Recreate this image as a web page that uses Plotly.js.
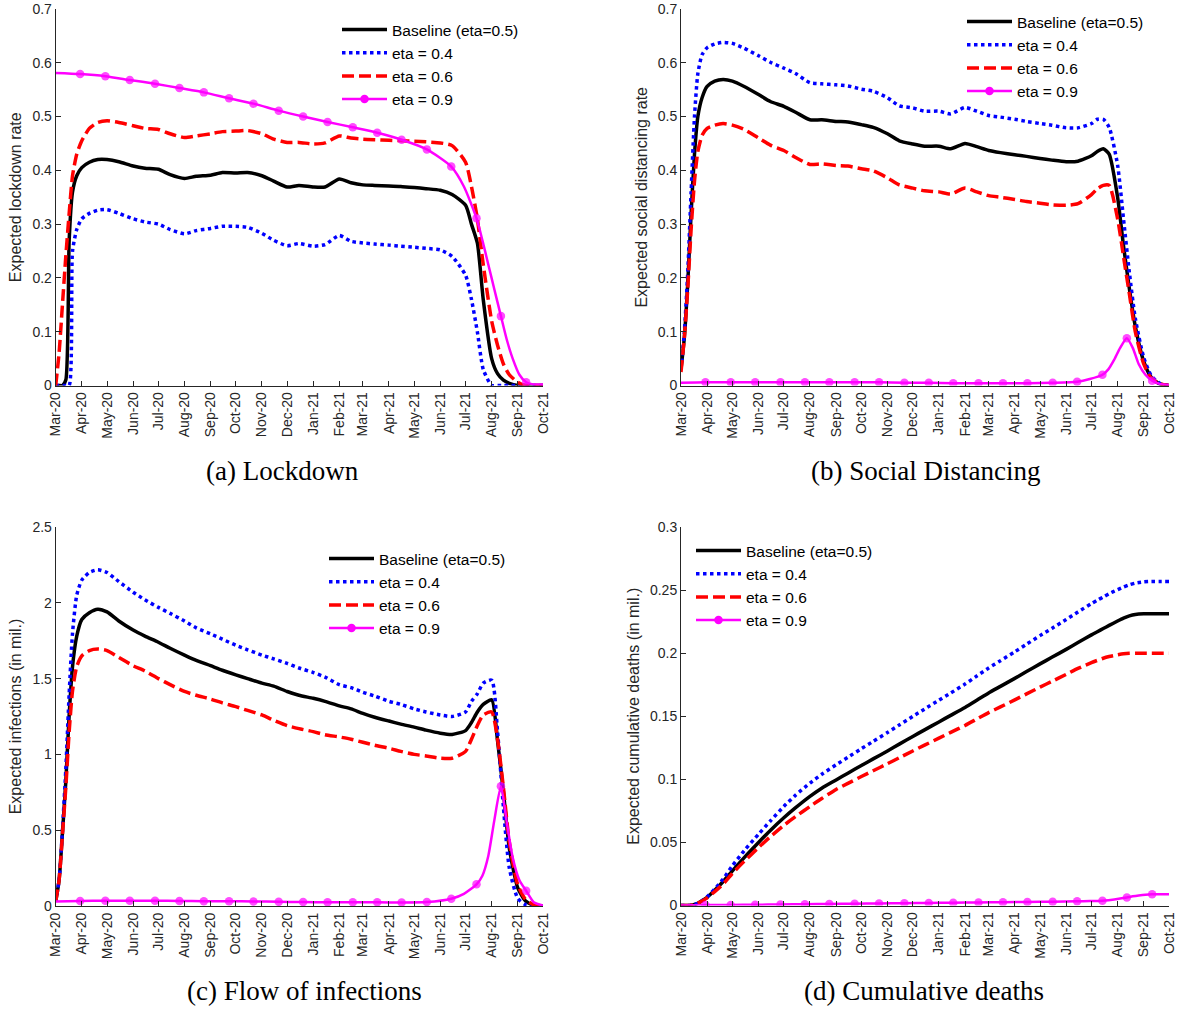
<!DOCTYPE html>
<html><head><meta charset="utf-8">
<script src="https://cdn.plot.ly/plotly-3.0.1.min.js"></script>
<style>html,body{margin:0;padding:0;background:#fff}#chart{width:1187px;height:1009px}</style>
</head><body><div id="chart"></div>
<script>
// ---------- DATA ----------
const dates = ['2020-03-01','2020-03-05','2020-03-09','2020-03-13','2020-03-17','2020-03-21','2020-03-26','2020-04-01','2020-04-10','2020-04-20',
  '2020-05-01','2020-05-15','2020-06-01','2020-06-15','2020-07-01','2020-07-15','2020-08-01','2020-08-15','2020-09-01','2020-09-15',
  '2020-10-01','2020-10-15','2020-11-01','2020-11-15','2020-12-01','2020-12-15','2021-01-01','2021-01-15','2021-02-01','2021-02-15',
  '2021-03-01','2021-03-15','2021-04-01','2021-04-15','2021-05-01','2021-05-15','2021-06-01','2021-06-15','2021-07-01','2021-07-08',
  '2021-07-15','2021-07-22','2021-08-01','2021-08-08','2021-08-15','2021-08-22','2021-09-01','2021-09-10','2021-09-20','2021-10-01'];

const eta09Dates = ['2020-03-01','2020-03-30','2020-04-29','2020-05-28','2020-06-27','2020-07-26','2020-08-24','2020-09-23','2020-10-22','2020-11-21',
  '2020-12-20','2021-01-18','2021-02-17','2021-03-18','2021-04-16','2021-05-16','2021-06-14','2021-06-29','2021-07-14','2021-07-21',
  '2021-07-28','2021-08-04','2021-08-12','2021-08-19','2021-08-26','2021-09-03','2021-09-11','2021-09-20','2021-10-01'];
const markerDates = ['2020-03-30','2020-04-29','2020-05-28','2020-06-27','2020-07-26','2020-08-24','2020-09-23','2020-10-22','2020-11-21',
  '2020-12-20','2021-01-18','2021-02-17','2021-03-18','2021-04-16','2021-05-16','2021-06-14','2021-07-14','2021-08-12','2021-09-11'];

const seriesNames = ['Baseline (eta=0.5)','eta = 0.4','eta = 0.6','eta = 0.9'];

// (a) Lockdown
const lockBase = [0,0,0,0.01,0.27,0.36,0.39,0.405,0.415,0.42, 0.42,0.416,0.408,0.404,0.402,0.392,0.385,0.389,0.391,0.396,
  0.395,0.396,0.39,0.38,0.369,0.372,0.369,0.369,0.384,0.377, 0.373,0.372,0.371,0.370,0.368,0.366,0.363,0.355,0.335,0.30,
  0.265,0.16,0.05,0.022,0.01,0.004,0,0,0,0];
const lockEta04 = [0,0,0,0,0,0.25,0.29,0.31,0.32,0.326, 0.327,0.32,0.31,0.304,0.30,0.29,0.282,0.288,0.292,0.296,
  0.296,0.294,0.283,0.27,0.26,0.264,0.259,0.262,0.279,0.268, 0.265,0.263,0.261,0.259,0.257,0.255,0.252,0.24,0.205,0.16,
  0.10,0.03,0,0,0,0,0,0,0,0];
const lockEta06 = [0,0.06,0.15,0.24,0.32,0.39,0.43,0.455,0.478,0.489, 0.492,0.489,0.483,0.478,0.476,0.468,0.461,0.464,0.468,0.472,
  0.473,0.474,0.468,0.458,0.452,0.452,0.449,0.451,0.464,0.460, 0.458,0.457,0.456,0.455,0.454,0.453,0.451,0.446,0.415,0.37,
  0.31,0.225,0.12,0.075,0.04,0.02,0.006,0,0,0];
const lockEta09 = [0.581,0.579,0.575,0.568,0.561,0.553,0.545,0.534,0.524,0.511, 0.500,0.490,0.480,0.470,0.457,0.439,0.407,0.37,0.311,0.27,
  0.225,0.18,0.129,0.085,0.05,0.02,0.006,0.002,0.002];

// (b) Social distancing
const sdBase = [0.03,0.09,0.19,0.32,0.43,0.50,0.535,0.556,0.566,0.569, 0.566,0.556,0.541,0.528,0.519,0.508,0.494,0.494,0.491,0.490,
  0.485,0.480,0.468,0.455,0.449,0.445,0.445,0.44,0.45,0.444, 0.437,0.433,0.429,0.426,0.422,0.419,0.416,0.417,0.427,0.435,
  0.44,0.43,0.35,0.26,0.18,0.11,0.045,0.015,0.003,0];
const sdEta04 = [0.03,0.10,0.21,0.36,0.50,0.58,0.615,0.628,0.635,0.638, 0.636,0.627,0.613,0.601,0.590,0.580,0.563,0.561,0.559,0.557,
  0.551,0.547,0.535,0.520,0.516,0.51,0.51,0.505,0.517,0.51, 0.502,0.499,0.495,0.491,0.487,0.484,0.479,0.479,0.487,0.495,
  0.495,0.48,0.41,0.31,0.21,0.125,0.052,0.018,0.004,0];
const sdEta06 = [0.025,0.09,0.18,0.29,0.38,0.435,0.465,0.478,0.484,0.487, 0.484,0.476,0.46,0.447,0.437,0.424,0.411,0.412,0.409,0.408,
  0.403,0.399,0.386,0.373,0.367,0.362,0.36,0.356,0.367,0.36, 0.353,0.35,0.346,0.342,0.339,0.336,0.335,0.338,0.355,0.366,
  0.372,0.372,0.31,0.24,0.17,0.10,0.04,0.013,0.003,0];
const sdEta09 = [0.005,0.006,0.006,0.006,0.006,0.006,0.006,0.006,0.006,0.005, 0.005,0.004,0.004,0.004,0.004,0.005,0.007,0.012,0.02,0.03,
  0.048,0.07,0.088,0.07,0.04,0.02,0.009,0.003,0.001];

// (c) Flow of infections (in mil.)
const infBase = [0.03,0.17,0.48,0.82,1.26,1.58,1.78,1.89,1.935,1.958, 1.94,1.88,1.82,1.78,1.74,1.70,1.655,1.62,1.585,1.555,
  1.525,1.50,1.47,1.45,1.415,1.39,1.37,1.35,1.32,1.30, 1.27,1.245,1.22,1.20,1.18,1.16,1.14,1.132,1.157,1.21,
  1.28,1.33,1.36,1.09,0.75,0.38,0.12,0.035,0.005,0];
const infEta04 = [0.03,0.17,0.5,0.9,1.4,1.8,2.05,2.15,2.2,2.218, 2.20,2.14,2.07,2.02,1.97,1.93,1.88,1.835,1.795,1.76,
  1.72,1.69,1.655,1.63,1.60,1.57,1.54,1.51,1.46,1.44, 1.41,1.385,1.35,1.33,1.30,1.28,1.26,1.25,1.28,1.35,
  1.40,1.47,1.49,1.15,0.65,0.25,0.05,0.01,0.002,0];
const infEta06 = [0.03,0.17,0.47,0.78,1.15,1.42,1.58,1.65,1.685,1.695, 1.685,1.64,1.585,1.55,1.50,1.46,1.415,1.39,1.365,1.34,
  1.315,1.29,1.26,1.225,1.19,1.17,1.15,1.13,1.115,1.10, 1.08,1.06,1.04,1.02,1.00,0.99,0.975,0.975,1.02,1.10,
  1.19,1.26,1.28,1.10,0.78,0.42,0.14,0.045,0.008,0];
const infEta09 = [0.03,0.033,0.035,0.035,0.035,0.033,0.032,0.031,0.030,0.028, 0.026,0.025,0.024,0.024,0.023,0.026,0.048,0.08,0.143,0.2,
  0.33,0.56,0.79,0.55,0.32,0.17,0.1,0.025,0.003];

// (d) Cumulative deaths (in mil.)
const deathBase = [0,0,0,0.0002,0.0008,0.0018,0.0038,0.0065,0.012,0.019, 0.0275,0.038,0.05,0.0595,0.0695,0.0775,0.0865,0.093,0.0995,0.1049,
  0.111,0.1162,0.1225,0.1279,0.134,0.1392,0.1455,0.1507,0.157,0.1627, 0.1685,0.1737,0.18,0.1854,0.1915,0.1967,0.203,0.2084,0.2145,0.217,
  0.2195,0.222,0.2255,0.2278,0.2296,0.2307,0.2312,0.2312,0.2312,0.2312];
const deathEta04 = [0,0,0,0.0002,0.0008,0.0018,0.0038,0.007,0.013,0.021, 0.0315,0.0435,0.0565,0.067,0.0785,0.0875,0.097,0.104,0.1115,0.1175,
  0.1243,0.1301,0.1371,0.1431,0.1499,0.1557,0.1627,0.1684,0.1755,0.1819, 0.1883,0.194,0.2011,0.2071,0.2139,0.2196,0.2267,0.2327,0.2393,0.242,
  0.2445,0.2472,0.2503,0.2524,0.2542,0.2555,0.2565,0.2568,0.2568,0.2568];
const deathEta06 = [0,0,0,0.0002,0.0008,0.0018,0.0035,0.006,0.011,0.017, 0.0255,0.035,0.046,0.0545,0.0635,0.0705,0.0785,0.0848,0.092,0.0968,
  0.1022,0.1068,0.1124,0.1171,0.1225,0.1271,0.1326,0.1372,0.1427,0.1478, 0.1529,0.1574,0.163,0.1677,0.1731,0.1776,0.1832,0.1879,0.1925,0.1943,
  0.196,0.1973,0.1987,0.1995,0.1999,0.2,0.2,0.2,0.2,0.2];
const deathEta09 = [0,0.0003,0.0004,0.0006,0.0008,0.001,0.0012,0.0014,0.0016,0.0018, 0.002,0.0022,0.0024,0.0026,0.0028,0.003,0.0033,0.0035,0.0038,0.0042,
  0.0048,0.0055,0.0064,0.0073,0.008,0.0086,0.0089,0.009,0.009];

const yTitles = ['Expected lockdown rate','Expected social distancing rate','Expected infections (in mil.)','Expected cumulative deaths (in mil.)'];
const captions = ['(a) Lockdown','(b) Social Distancing','(c) Flow of infections','(d) Cumulative deaths'];
const yTicks = [
  [0,0.1,0.2,0.3,0.4,0.5,0.6,0.7],
  [0,0.1,0.2,0.3,0.4,0.5,0.6,0.7],
  [0,0.5,1,1.5,2,2.5],
  [0,0.05,0.1,0.15,0.2,0.25,0.3]
];

// ---------- LAYOUT GEOMETRY (pixels) ----------
const W = 1187, H = 1009;
const fx = v => v / W, fy = v => 1 - v / H;
const boxes = [
  {x0:55.7, x1:543, top:9, bot:385.5, legX:337, legY:13, capX:282, capY:471},
  {x0:681, x1:1169, top:9, bot:385.5, legX:962, legY:5, capX:925, capY:471},
  {x0:55.7, x1:543, top:527, bot:906, legX:324, legY:542, capX:305, capY:991},
  {x0:681, x1:1169, top:527, bot:905.5, legX:691, legY:534, capX:924, capY:991}
];
const panels = [
  [lockBase, lockEta04, lockEta06, lockEta09],
  [sdBase, sdEta04, sdEta06, sdEta09],
  [infBase, infEta04, infEta06, infEta09],
  [deathBase, deathEta04, deathEta06, deathEta09]
];

const AX = '#262626';
const SANS = 'Liberation Sans, Arial, sans-serif';
const styles = [
  {color:'#000000', width:3.5, dash:'solid'},
  {color:'#0000FF', width:3.5, dash:'dot'},
  {color:'#FF0000', width:3.5, dash:'12px,5px'},
  {color:'#FF00FF', width:2.5, dash:'solid'}
];
const markerSizes = eta09Dates.map(d => markerDates.includes(d) ? 8.5 : 0);

const traces = [];
const layout = {
  width: W, height: H,
  margin: {l:0, r:0, t:0, b:0},
  paper_bgcolor: '#fff', plot_bgcolor: '#fff',
  showlegend: true,
  annotations: []
};

panels.forEach((ser, i) => {
  const n = i + 1;
  const xa = n === 1 ? 'x' : 'x' + n, ya = n === 1 ? 'y' : 'y' + n;
  const lg = n === 1 ? 'legend' : 'legend' + n;
  for (let k = 0; k < 3; k++) {
    traces.push({
      type:'scatter', mode:'lines', x: dates, y: ser[k], xaxis: xa, yaxis: ya,
      name: seriesNames[k], legend: lg, line: Object.assign({shape:'spline', smoothing:0.6}, styles[k]),
      hoverinfo:'skip'
    });
  }
  traces.push({
    type:'scatter', mode:'lines+markers', x: eta09Dates, y: ser[3], xaxis: xa, yaxis: ya,
    name: seriesNames[3], legend: lg, showlegend:false, legendgroup:'g9'+n,
    line: Object.assign({shape:'spline', smoothing:0.6}, styles[3]),
    marker: {color:'#FF00FF', size: markerSizes, line:{width:0}}, hoverinfo:'skip'
  });
  traces.push({
    type:'scatter', mode:'lines+markers', x:[null], y:[null], xaxis: xa, yaxis: ya,
    name: seriesNames[3], legend: lg, legendgroup:'g9'+n,
    line: styles[3], marker: {color:'#FF00FF', size: 8.5}, hoverinfo:'skip'
  });

  const b = boxes[i];
  const yt = yTicks[i];
  layout[n === 1 ? 'xaxis' : 'xaxis' + n] = {
    domain: [fx(b.x0), fx(b.x1)], anchor: ya, type:'date',
    range: ['2020-03-01','2021-10-01'], tick0:'2020-03-01', dtick:'M1', tickformat:'%b-%y',
    tickangle: -90, ticks:'inside', ticklen:5, tickwidth:1, tickcolor:AX,
    showline:true, linecolor:AX, linewidth:1, showgrid:false, zeroline:false,
    ticklabeloverflow:'allow',
    tickfont:{family:SANS, size:14, color:AX}, fixedrange:true
  };
  layout[n === 1 ? 'yaxis' : 'yaxis' + n] = {
    domain: [fy(b.bot), fy(b.top)], anchor: xa, range: [yt[0], yt[yt.length - 1]],
    tickmode:'array', tickvals: yt, ticktext: yt.map(String),
    ticks:'inside', ticklen:5, tickwidth:1, tickcolor:AX,
    showline:true, linecolor:AX, linewidth:1, showgrid:false, zeroline:false,
    ticklabeloverflow:'allow',
    tickfont:{family:SANS, size:14, color:AX},
    title:{text: yTitles[i], font:{family:SANS, size:16, color:AX}, standoff:6}, fixedrange:true
  };
  layout[lg] = {
    x: fx(b.legX), y: fy(b.legY), xanchor:'left', yanchor:'top',
    bgcolor:'rgba(0,0,0,0)', borderwidth:0, itemwidth:45, tracegroupgap:0,
    font:{family:SANS, size:15.5, color:'#000'}, traceorder:'normal'
  };
  layout.annotations.push({
    text: captions[i], xref:'paper', yref:'paper', x: fx(b.capX), y: fy(b.capY),
    xanchor:'center', yanchor:'middle', showarrow:false,
    font:{family:'Liberation Serif, Times New Roman, serif', size:27, color:'#000'}
  });
});

Plotly.newPlot('chart', traces, layout, {displayModeBar:false, staticPlot:true});
</script>
</body></html>
